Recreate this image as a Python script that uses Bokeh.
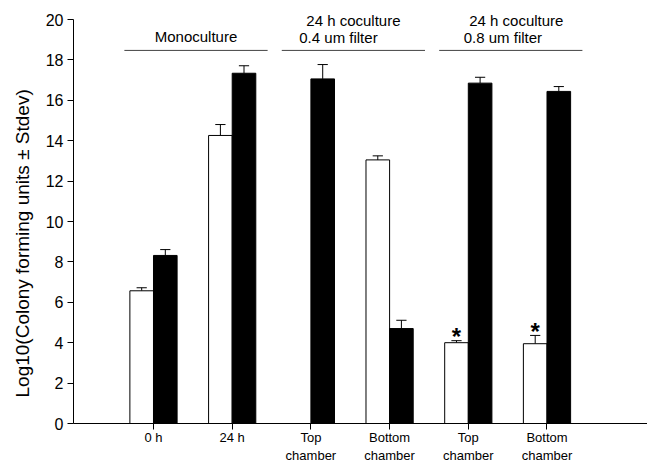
import math
from bokeh.plotting import figure
from bokeh.models import FixedTicker, Label, Title
from bokeh.embed import file_html
from bokeh.resources import INLINE
from bokeh.core.properties import value

# ---- data ----
categories = ["0 h", "24 h", "Top\nchamber", "Bottom\nchamber", "Top\nchamber", "Bottom\nchamber"]
white_mean = [6.57, 14.26, float("nan"), 13.05, 4.00, 3.95]
white_sd = [0.15, 0.54, float("nan"), 0.20, 0.10, 0.41]
black_mean = [8.32, 17.34, 17.06, 4.70, 16.85, 16.44]
black_sd = [0.29, 0.37, 0.71, 0.41, 0.29, 0.24]
significant = [False, False, False, False, True, True]
group_titles = [["Monoculture"], ["24 h coculture", "0.4 um filter"], ["24 h coculture", "0.8 um filter"]]
group_members = [(1, 2), (3, 4), (5, 6)]
y_ticks = list(range(0, 21, 2))

FONT = "Liberation Sans"
xs = list(range(1, len(categories) + 1))
BW = 0.3
CAP = 0.065
# per-group header text nudges (layout only)
line1_shift = [0.0, 0.0, 0.07]
line2_shift = [0.0, -0.19, -0.10]

p = figure(width=647, height=465, output_backend="svg", toolbar_location=None,
           x_range=(-0.0165, 7.277), y_range=(0, 20.743),
           min_border_left=73, min_border_right=0, min_border_top=4, min_border_bottom=42)
p.outline_line_color = None
p.xgrid.visible = False
p.ygrid.visible = False
p.background_fill_color = "white"
p.border_fill_color = "white"

# white bars
wx, wt, wsd = [], [], []
for x, m, s in zip(xs, white_mean, white_sd):
    if not math.isnan(m):
        wx.append(x - BW / 2); wt.append(m); wsd.append(s)
bx = [x + BW / 2 for x in xs]

def errbars(xv, tops, sds):
    ytop = [t + s for t, s in zip(tops, sds)]
    p.segment(x0=xv, y0=tops, x1=xv, y1=ytop, line_color="black", line_width=1)
    p.segment(x0=[x - CAP for x in xv], y0=ytop, x1=[x + CAP for x in xv], y1=ytop,
              line_color="black", line_width=1)

errbars(wx, wt, wsd)
errbars(bx, black_mean, black_sd)
p.vbar(x=wx, width=BW, top=wt, bottom=0, fill_color="white", line_color="black", line_width=1)
p.vbar(x=bx, width=BW, top=black_mean, bottom=0, fill_color="black", line_color="black", line_width=1)

# significance asterisks
ax, ay = [], []
for x, m, s, sig in zip(xs, white_mean, white_sd, significant):
    if sig:
        ax.append(x - BW / 2); ay.append(m + s + 0.2)
p.text(x=ax, y=ay, text=["*"] * len(ax), text_font=value(FONT), text_font_size="24px",
       text_font_style="bold", text_align="center", text_baseline="middle", text_color="black")

# group headers
for i, ((a, b), titles) in enumerate(zip(group_members, group_titles)):
    x0, x1 = a - 0.37, b + 0.45
    p.segment(x0=[x0], y0=[18.47], x1=[x1], y1=[18.47], line_color="#444444", line_width=1)
    c = (x0 + x1) / 2
    if len(titles) == 1:
        p.add_layout(Label(x=c + line1_shift[i], y=19.16, text=titles[0], text_align="center",
                           text_baseline="middle", text_font=FONT, text_font_size="15px",
                           text_color="black"))
    else:
        p.add_layout(Label(x=c + line1_shift[i], y=19.95, text=titles[0], text_align="center",
                           text_baseline="middle", text_font=FONT, text_font_size="15px",
                           text_color="black"))
        p.add_layout(Label(x=c + line2_shift[i], y=19.1, text=titles[1], text_align="center",
                           text_baseline="middle", text_font=FONT, text_font_size="15px",
                           text_color="black"))

# axes
p.xaxis.ticker = FixedTicker(ticks=xs)
p.xaxis.major_label_overrides = {x: c for x, c in zip(xs, categories)}
p.yaxis.ticker = FixedTicker(ticks=y_ticks)
p.yaxis.bounds = (0, 20)
for ax_ in (p.xaxis[0], p.yaxis[0]):
    ax_.axis_line_color = "black"
    ax_.major_tick_line_color = "black"
    ax_.major_tick_in = 0
    ax_.major_tick_out = 6
    ax_.minor_tick_line_color = None
    ax_.major_label_text_font = FONT
    ax_.major_label_text_color = "black"
p.xaxis.major_label_text_font_size = "13px"
p.xaxis.major_label_standoff = 0
p.yaxis.major_label_text_font_size = "16px"
p.yaxis.major_label_standoff = 4

ytitle = Title(text="Log10(Colony forming units \u00b1 Stdev)", align="left", offset=26,
               text_font=FONT, text_font_size="19px", text_font_style="normal",
               text_color="black", standoff=19)
p.add_layout(ytitle, "left")

open("out.html", "w").write(file_html(p, INLINE))
